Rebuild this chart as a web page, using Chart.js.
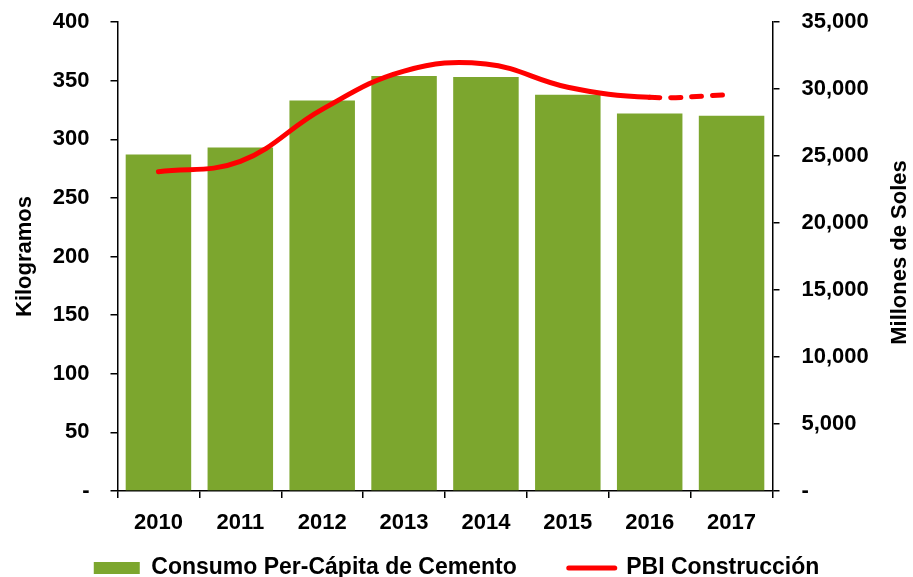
<!DOCTYPE html>
<html>
<head>
<meta charset="utf-8">
<script src="https://cdn.jsdelivr.net/npm/chart.js@4/dist/chart.umd.min.js"></script>
<style>
  html, body { margin: 0; padding: 0; background: #ffffff; }
  #wrap { width: 913px; height: 577px; }
</style>
</head>
<body>
<div id="wrap"><canvas id="c" width="913" height="577"></canvas></div>
<script>
// Years on the category axis
const years = ['2010', '2011', '2012', '2013', '2014', '2015', '2016', '2017'];
// Per-capita cement consumption (kg), left axis
const consumoKg = [287, 293, 333, 354, 353, 338, 322, 320];
// Construction GDP (millions of soles), right axis
const pbiMillones = [23830, 24600, 28480, 31340, 31870, 30130, 29380, 29580];
// Axis ranges and tick steps
const kgTicks = { min: 0, max: 400, step: 50 };
const solesTicks = { min: 0, max: 35000, step: 5000 };
// Series names
const barLabel = 'Consumo Per-Cápita de Cemento';
const lineLabel = 'PBI Construcción';
const leftTitle = 'Kilogramos';
const rightTitle = 'Millones de Soles';

const GREEN = '#7CA62E';
const RED = '#FF0000';
const FONT = "'Liberation Sans', Arial, sans-serif";
const LEGEND_PAD = 52;
const LEGEND_CENTER_Y = 568;

// Right-hand axis title, reading bottom to top
const rightTitlePlugin = {
  id: 'rightTitle',
  afterDraw(chart) {
    const { ctx, chartArea } = chart;
    ctx.save();
    ctx.translate(900, (chartArea.top + chartArea.bottom) / 2 - 4);
    ctx.rotate(-Math.PI / 2);
    ctx.font = 'bold 22px ' + FONT;
    ctx.fillStyle = '#000';
    ctx.textAlign = 'center';
    ctx.textBaseline = 'middle';
    ctx.fillText(rightTitle, 0, 0);
    ctx.restore();
  }
};

// Let the legend row sit just under the year labels
const legendPlacePlugin = {
  id: 'legendPlace',
  afterLayout(chart) {
    const lg = chart.legend;
    if (!lg) return;
    const top = LEGEND_CENTER_Y - LEGEND_PAD - 11.5;
    lg.top = top;
    lg.bottom = chart.height;
    lg.height = lg.bottom - lg.top;
  }
};

// Vertical axes: fixed width, no extra room reserved above/below for end labels
function fixYAxis(width) {
  return scale => {
    scale.width = width;
    scale.paddingTop = 0;
    scale.paddingBottom = 0;
  };
}

new Chart(document.getElementById('c'), {
  data: {
    labels: years,
    datasets: [
      {
        type: 'line',
        label: lineLabel,
        data: pbiMillones,
        yAxisID: 'ySoles',
        borderColor: RED,
        backgroundColor: RED,
        borderWidth: 5,
        borderCapStyle: 'round',
        tension: 0.4,
        pointRadius: 0,
        order: 0,
        segment: {
          borderDash: ctx => ctx.p1DataIndex === years.length - 1 ? [10, 11] : undefined
        }
      },
      {
        type: 'bar',
        label: barLabel,
        data: consumoKg,
        yAxisID: 'yKg',
        backgroundColor: GREEN,
        borderWidth: 0,
        barPercentage: 0.8,
        categoryPercentage: 1.0,
        order: 1
      }
    ]
  },
  options: {
    responsive: false,
    devicePixelRatio: 1,
    animation: false,
    layout: { padding: { top: 22, left: 0, right: 0, bottom: 0 } },
    plugins: {
      tooltip: { enabled: false },
      legend: {
        position: 'bottom',
        maxHeight: 41,
        labels: {
          usePointStyle: true,
          pointStyleWidth: 46,
          boxHeight: 12,
          padding: LEGEND_PAD,
          color: '#000',
          font: { family: FONT, size: 23, weight: 'bold' },
          generateLabels() {
            return [
              { text: barLabel, fillStyle: GREEN, strokeStyle: GREEN, lineWidth: 0, pointStyle: 'rect', datasetIndex: 1, hidden: false },
              { text: lineLabel, fillStyle: RED, strokeStyle: RED, lineWidth: 5, lineCap: 'round', pointStyle: 'line', datasetIndex: 0, hidden: false }
            ];
          }
        }
      }
    },
    scales: {
      x: {
        offset: true,
        afterFit(scale) { scale.height = 45; },
        border: { display: true, color: '#000', width: 1.5 },
        grid: { display: true, drawOnChartArea: false, drawTicks: true, tickLength: 7, color: '#000', lineWidth: 1.5, offset: true },
        ticks: { color: '#000', padding: 12, font: { family: FONT, size: 22, weight: 'bold' }, maxRotation: 0 }
      },
      yKg: {
        position: 'left',
        min: kgTicks.min,
        max: kgTicks.max,
        afterFit: fixYAxis(117.5),
        border: { display: true, color: '#000', width: 1.5 },
        grid: { drawOnChartArea: false, drawTicks: true, tickLength: 7, color: '#000', lineWidth: 1.5 },
        ticks: {
          stepSize: kgTicks.step,
          padding: 21,
          color: '#000',
          font: { family: FONT, size: 22, weight: 'bold' },
          callback: v => v === 0 ? '-' : String(v)
        },
        title: {
          display: true,
          text: leftTitle,
          color: '#000',
          padding: { top: 12, bottom: 0 },
          font: { family: FONT, size: 22, weight: 'bold' }
        }
      },
      ySoles: {
        position: 'right',
        min: solesTicks.min,
        max: solesTicks.max,
        afterFit: fixYAxis(140.5),
        border: { display: true, color: '#000', width: 1.5 },
        grid: { drawOnChartArea: false, drawTicks: true, tickLength: 7, color: '#000', lineWidth: 1.5 },
        ticks: {
          stepSize: solesTicks.step,
          padding: 22,
          color: '#000',
          font: { family: FONT, size: 22, weight: 'bold' },
          callback: v => v === 0 ? '-' : Number(v).toLocaleString('en-US')
        }
      }
    }
  },
  plugins: [rightTitlePlugin, legendPlacePlugin]
});
</script>
</body>
</html>
